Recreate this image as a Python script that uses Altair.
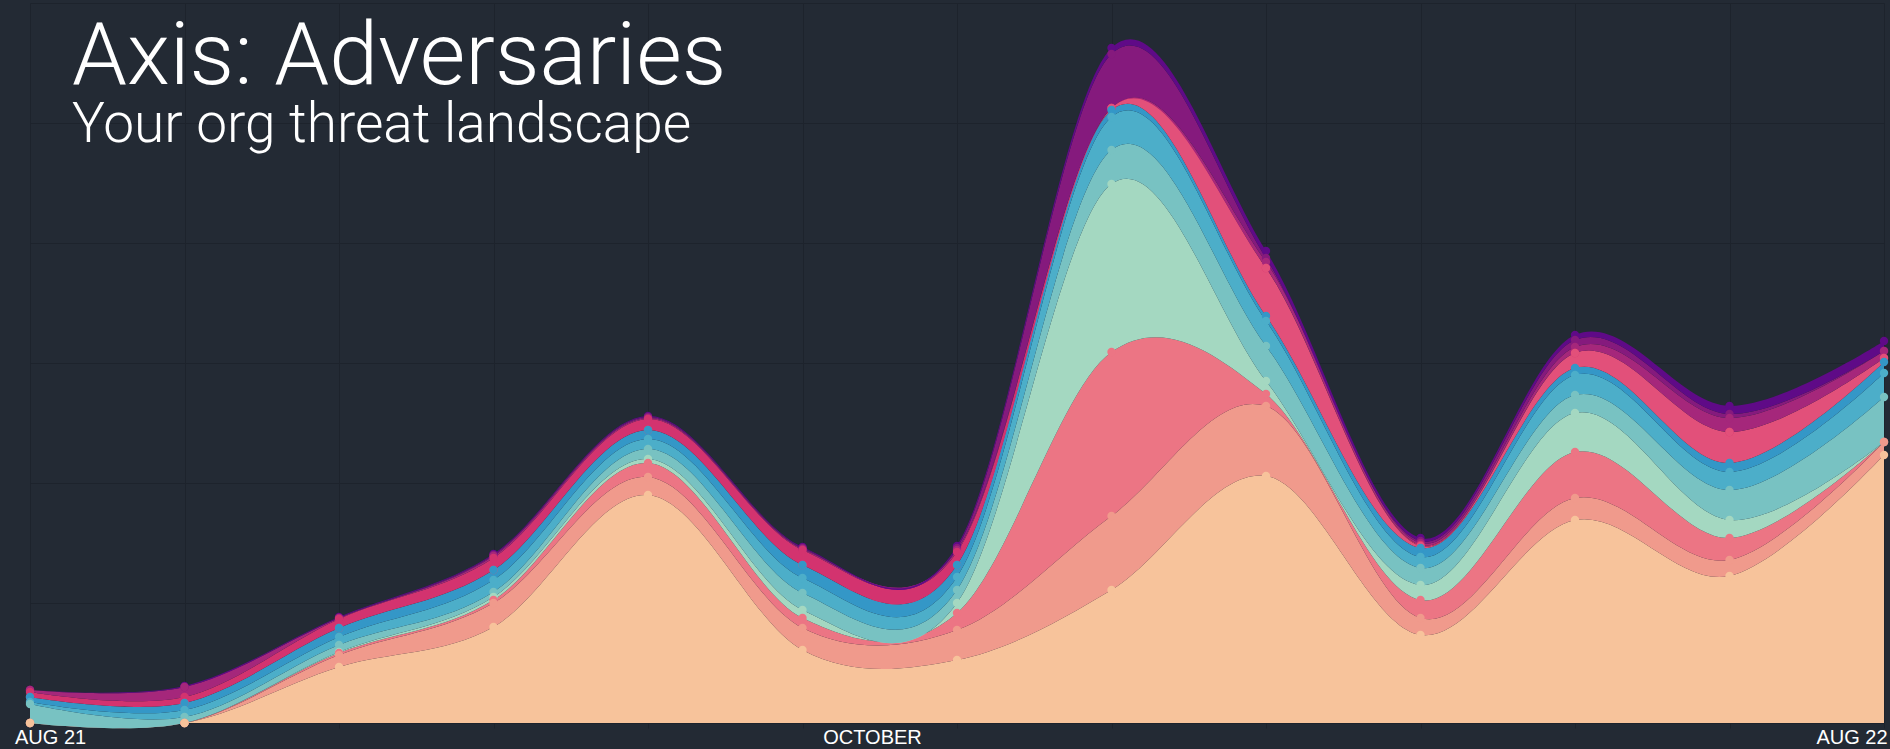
import altair as alt
import pandas as pd

# x positions (13 monthly snapshots), bottom-to-top layer names, colours and values
x_index = list(range(13))

layer_names = ["Peach", "Salmon", "Pink", "Mint", "Teal", "Light blue", "Blue",
               "Rose", "Hot pink", "Magenta", "Purple", "Dark purple"]
layer_colors = ["#f7c39b", "#f09a8c", "#ec7584", "#a4d8c1", "#78c2c2", "#4caec9", "#3497c7",
                "#e2507a", "#d3336f", "#a5277b", "#851a7d", "#5f0a87"]

peach      = [0, 0, 56, 96, 228, 73, 63, 133, 247, 88, 203, 147, 268]
salmon     = [0, 0, 12, 24, 18, 22, 30, 74, 70, 17, 22, 16, 13]
pink       = [0, 0, 2, 3, 14, 10, 17, 164, 12, 18, 46, 22, 0]
mint       = [0, 0, 1, 3, 4, 8, 10, 168, 13, 15, 39, 18, 0]
teal       = [19, 6, 7, 5, 10, 17, 13, 34, 35, 17, 18, 30, 45]
light_blue = [2, 7, 8, 12, 10, 15, 13, 33, 25, 11, 20, 18, 24]
blue       = [5, 7, 9, 10, 9, 13, 12, 7, 5, 9, 7, 9, 11]
rose       = [0, 0, 0, 0, 0, 0, 0, 2, 48, 2, 15, 31, 4]
hot_pink   = [5, 6, 9, 12, 11, 15, 13, 0, 0, 1, 0, 0, 0]
magenta    = [2, 10, 1, 2, 1, 1, 2, 0, 6, 2, 6, 14, 7]
purple     = [0, 0, 0, 1, 1, 1, 2, 54, 4, 2, 7, 4, 0]
dark_purple = [0, 1, 1, 1, 1, 1, 2, 6, 7, 3, 5, 8, 10]

series = [peach, salmon, pink, mint, teal, light_blue, blue,
          rose, hot_pink, magenta, purple, dark_purple]

x_label_text = ["AUG 21", "OCTOBER", "AUG 22"]
x_label_at = [0.13, 5.45, 11.79]

rows = []
for k, (name, vals) in enumerate(zip(layer_names, series)):
    for xi, v in zip(x_index, vals):
        rows.append({"x": xi, "v": v, "layer": name, "k": k})
df = pd.DataFrame(rows)
# markers of upper layers are painted first, so lower layers' markers sit on top
df_points = df.iloc[::-1].reset_index(drop=True)

BG = "#232a34"
GRID = "#1d232c"

x_scale = alt.Scale(domain=[0, 12], nice=False, zero=False)
y_scale = alt.Scale(domain=[0, 720], nice=False)
color = alt.Color("layer:N", scale=alt.Scale(domain=layer_names, range=layer_colors), legend=None)
y_axis = alt.Axis(values=[0, 120, 240, 360, 480, 600, 720], labels=False, ticks=False,
                  domain=False, grid=True, gridColor=GRID, gridWidth=1, title=None)

label_expr = " : ".join(
    f"abs(datum.value - {p}) < 0.01 ? '{t}'" for p, t in zip(x_label_at, x_label_text)
) + " : ''"

areas = alt.Chart(df).mark_area(interpolate="cardinal", opacity=1).encode(
    x=alt.X("x:Q", scale=x_scale,
            axis=alt.Axis(values=x_index, labels=False, grid=True, gridColor=GRID,
                          ticks=True, tickColor=GRID, tickSize=5, domain=False,
                          title=None, orient="bottom")),
    y=alt.Y("v:Q", stack="zero", scale=y_scale, axis=y_axis),
    color=color,
    order=alt.Order("k:Q", sort="ascending"),
)

points = alt.Chart(df_points).mark_circle(size=70, opacity=1).encode(
    x=alt.X("x:Q", scale=x_scale,
            axis=alt.Axis(values=x_label_at, labelExpr=label_expr, grid=False, ticks=False,
                          domain=False, labelFont="Liberation Sans", labelFontSize=20,
                          labelColor="#ffffff", labelPadding=4, labelFlush=False,
                          labelOverlap=False, labelBound=False, title=None, orient="bottom")),
    y=alt.Y("v:Q", stack="zero", scale=y_scale, axis=y_axis),
    color=color,
    order=alt.Order("k:Q", sort="ascending"),
)

chart = alt.layer(areas, points).resolve_axis(x="independent").properties(
    width=1854,
    height=720,
    background=BG,
    padding={"left": 30, "top": 3, "right": 6, "bottom": 26},
    autosize=alt.AutoSizeParams(type="none"),
    title=alt.Title(
        "Axis: Adversaries",
        subtitle="Your org threat landscape",
        anchor="start", frame="group", orient="top",
        offset=-150, dx=42,
        font="Roboto", fontWeight=300, fontSize=88, color="#ffffff",
        subtitleFont="Roboto", subtitleFontWeight=300, subtitleFontSize=55,
        subtitleColor="#ffffff", subtitlePadding=-3,
    ),
).configure_view(stroke=None)

chart.save("out.html", embed_options={"renderer": "svg", "actions": False})
